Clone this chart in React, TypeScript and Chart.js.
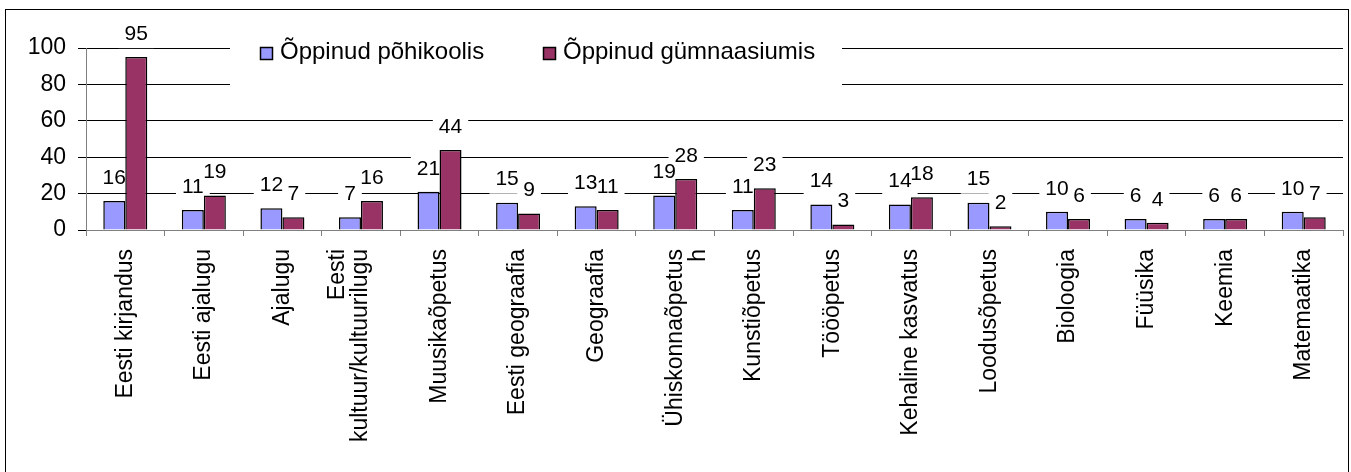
import React, { useEffect, useRef } from "react";
import { Chart, registerables } from "chart.js";

Chart.register(...registerables);

const categories: (string | string[])[] = [
  "Eesti kirjandus",
  "Eesti ajalugu",
  "Ajalugu",
  ["Eesti", "kultuur/kultuurilugu"],
  "Muusikaõpetus",
  "Eesti geograafia",
  "Geograafia",
  ["Ühiskonnaõpetus", "h"],
  "Kunstiõpetus",
  "Töööpetus",
  "Kehaline kasvatus",
  "Loodusõpetus",
  "Bioloogia",
  "Füüsika",
  "Keemia",
  "Matemaatika",
];

const seriesNames = ["Õppinud põhikoolis", "Õppinud gümnaasiumis"];
const pohikoolValues = [16, 11, 12, 7, 21, 15, 13, 19, 11, 14, 14, 15, 10, 6, 6, 10];
const gymnaasiumValues = [95, 19, 7, 16, 44, 9, 11, 28, 23, 3, 18, 2, 6, 4, 6, 7];
const seriesColors = ["#9999FF", "#993366"];
const yTicks = [0, 20, 40, 60, 80, 100];

const FONT = '"Liberation Sans", Arial, sans-serif';
const X_FONT_SIZE = 23;
const X_LINE_HEIGHT = 1.0;
const LABEL_FONT_SIZE = 21;

export default function App() {
  const ref = useRef<HTMLCanvasElement | null>(null);

  useEffect(() => {
    if (!ref.current) return;
    document.body.style.margin = "0";
    document.body.style.overflow = "hidden";

    const framePlugin = {
      id: "frame",
      beforeDraw(chart: any) {
        const ctx = chart.ctx;
        ctx.save();
        ctx.fillStyle = "#ffffff";
        ctx.fillRect(0, 0, chart.width, chart.height);
        ctx.strokeStyle = "#000000";
        ctx.lineWidth = 1;
        ctx.strokeRect(5.5, 9.5, 1343, 480);
        ctx.restore();
        // centre the longest line of wrapped category labels, as the original does
        const xs = chart.scales.x;
        const items = xs.getLabelItems();
        ctx.save();
        ctx.font = `${X_FONT_SIZE}px ${FONT}`;
        items.forEach((it: any) => {
          if (Array.isArray(it.label) && !it._shifted) {
            let longest = 0;
            let best = 0;
            it.label.forEach((l: string, k: number) => {
              const w = ctx.measureText(l).width;
              if (w > longest) {
                longest = w;
                best = k;
              }
            });
            it.options.translation[0] -= best * X_FONT_SIZE * X_LINE_HEIGHT;
            it._shifted = true;
          }
        });
        ctx.restore();
      },
    };

    const labelPlugin = {
      id: "labels",
      beforeDatasetsDraw(chart: any) {
        const ctx = chart.ctx;
        ctx.save();
        // legend box
        ctx.fillStyle = "#ffffff";
        ctx.fillRect(230, 32, 612, 62);
        ctx.font = `${LABEL_FONT_SIZE}px ${FONT}`;
        chart.data.datasets.forEach((ds: any, i: number) => {
          const meta = chart.getDatasetMeta(i);
          meta.data.forEach((bar: any, j: number) => {
            const text = String(ds.data[j]);
            const w = ctx.measureText(text).width;
            const cy = bar.y - 23;
            ctx.fillStyle = "#ffffff";
            ctx.fillRect(bar.x - w / 2 - 6, cy - 14, w + 12, 28);
          });
        });
        // legend items
        const items = [
          { x: 260, tx: 280 },
          { x: 543, tx: 563 },
        ];
        ctx.font = `24px ${FONT}`;
        ctx.textBaseline = "middle";
        ctx.textAlign = "left";
        items.forEach((it, i) => {
          ctx.fillStyle = seriesColors[i];
          ctx.fillRect(it.x, 47, 13, 13);
          ctx.strokeStyle = "#000000";
          ctx.lineWidth = 1.5;
          ctx.strokeRect(it.x + 0.5, 47.5, 12, 12);
          ctx.fillStyle = "#000000";
          ctx.fillText(seriesNames[i], it.tx, 52);
        });
        ctx.restore();
      },
      afterDatasetsDraw(chart: any) {
        const ctx = chart.ctx;
        ctx.save();
        ctx.font = `${LABEL_FONT_SIZE}px ${FONT}`;
        ctx.fillStyle = "#000000";
        ctx.textAlign = "center";
        ctx.textBaseline = "middle";
        chart.data.datasets.forEach((ds: any, i: number) => {
          const meta = chart.getDatasetMeta(i);
          meta.data.forEach((bar: any, j: number) => {
            ctx.fillText(String(ds.data[j]), bar.x, bar.y - 23);
          });
        });
        ctx.restore();
      },
    };

    const chart = new Chart(ref.current, {
      type: "bar",
      data: {
        labels: categories,
        datasets: [
          {
            label: seriesNames[0],
            data: pohikoolValues,
            backgroundColor: seriesColors[0],
            borderColor: "#000000",
            borderWidth: 1.5,
            categoryPercentage: 0.56,
            barPercentage: 1,
          },
          {
            label: seriesNames[1],
            data: gymnaasiumValues,
            backgroundColor: seriesColors[1],
            borderColor: "#000000",
            borderWidth: 1.5,
            categoryPercentage: 0.56,
            barPercentage: 1,
          },
        ],
      },
      options: {
        responsive: false,
        animation: false,
        layout: { padding: { left: 0, top: 48, right: 8, bottom: 0 } },
        plugins: {
          legend: { display: false },
          tooltip: { enabled: false },
          title: { display: false },
        },
        scales: {
          x: {
            offset: true,
            grid: {
              display: true,
              drawOnChartArea: false,
              offset: true,
              tickLength: 6,
              tickColor: "#808080",
            },
            border: { color: "#808080" },
            ticks: {
              color: "#000000",
              font: { family: FONT, size: X_FONT_SIZE, lineHeight: X_LINE_HEIGHT },
              maxRotation: 90,
              minRotation: 90,
              padding: 13,
              autoSkip: false,
            },
            afterFit(scale: any) {
              scale.height = 472 - 230;
            },
          },
          y: {
            min: 0,
            max: 100,
            afterBuildTicks(scale: any) {
              scale.ticks = yTicks.map((v) => ({ value: v }));
            },
            grid: {
              color: "#000000",
              tickColor: "#000000",
              tickLength: 8,
              lineWidth: 1,
            },
            border: { color: "#808080" },
            ticks: {
              color: "#000000",
              font: { family: FONT, size: 23 },
              padding: 12,
            },
            afterFit(scale: any) {
              scale.width = 86;
            },
          },
        },
      },
      plugins: [framePlugin, labelPlugin],
    });

    return () => chart.destroy();
  }, []);

  return (
    <div style={{ position: "fixed", left: 0, top: 0, width: 1351, height: 472 }}>
      <canvas ref={ref} width={1351} height={472} style={{ display: "block" }} />
    </div>
  );
}
